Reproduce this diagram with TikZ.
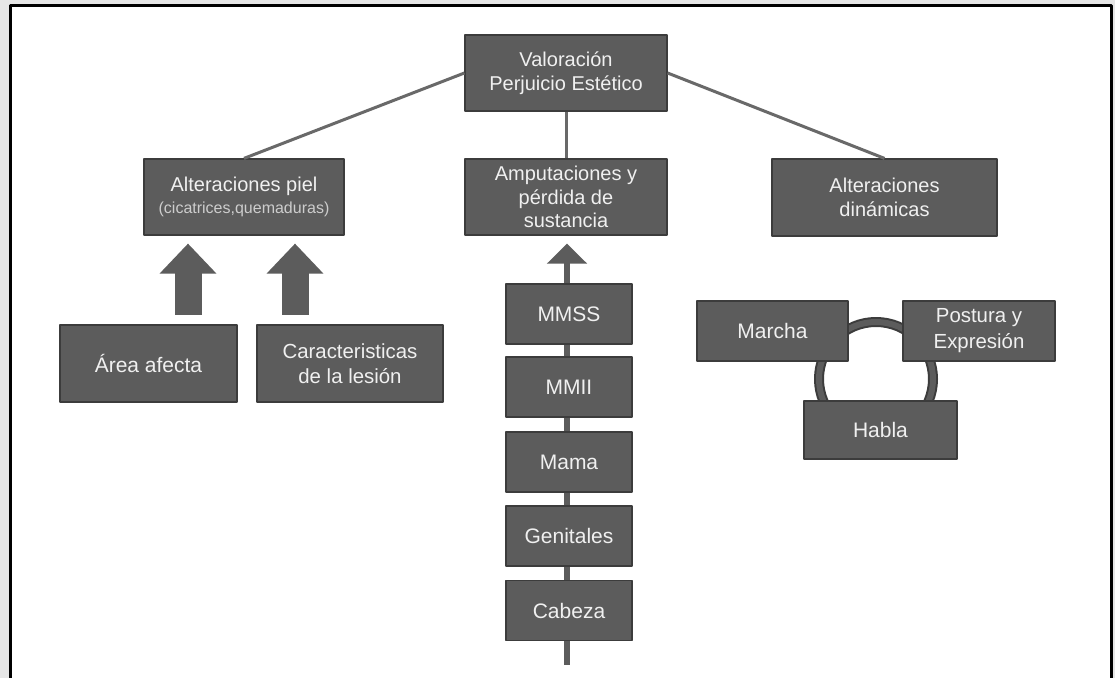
\documentclass[tikz,border=0pt]{standalone}
\usepackage{fontspec}
\setmainfont{Liberation Sans}
\usetikzlibrary{arrows.meta}

\definecolor{boxgray}{RGB}{92,92,92}
\definecolor{boxedge}{RGB}{60,60,60}
\definecolor{linkgray}{RGB}{105,105,105}
\definecolor{textgray}{RGB}{240,240,240}
\definecolor{smallgray}{RGB}{205,205,205}
\definecolor{pagegray}{RGB}{230,230,230}

\begin{document}
\begin{tikzpicture}[x=0.5pt, y=-0.5pt, line join=round,
		box/.style={draw=boxedge, line width=0.6pt, fill=boxgray, text=textgray,
			align=center, inner sep=0pt, font=\fontsize{10}{12}\selectfont},
		bigbox/.style={box, font=\fontsize{10.5}{12.5}\selectfont},
		colbox/.style={bigbox, minimum width=63pt, minimum height=30pt},
		link/.style={draw=linkgray, line width=1.5pt},
		fatarrow/.style={draw=boxgray, line width=13.5pt,
			-{Triangle[length=15pt, width=27.5pt]}},
		colarrow/.style={draw=boxgray, line width=3pt,
			-{Triangle[length=10pt, width=19.5pt]}},
		ring/.style={draw=boxedge, line width=1pt, double=boxgray, double distance=3pt}]
		
		% --- page and frame ---
		\fill[pagegray] (0,0) rectangle (1115,678);
		\useasboundingbox (0,0) rectangle (1115,678);
		\fill[white] (10.7,5.5) rectangle (1111,678);
		\draw[line width=1.5pt] (10.7,678) -- (10.7,5.5) -- (1111,5.5) -- (1111,678);
		
		% --- top level ---
		\node[box, minimum width=101pt, minimum height=38pt] (val) at (566,73)
		{Valoración\\Perjuicio Estético};
		
		\node[box, minimum width=100pt, minimum height=38pt] (piel) at (244,197)
		{Alteraciones piel\\[-1pt]{\color{smallgray}\fontsize{8}{9}\selectfont(cicatrices,quemaduras)}};
		\node[box, minimum width=101pt, minimum height=38pt, font=\fontsize{10}{11.7}\selectfont] (amp) at (566,197)
		{Amputaciones y\\pérdida de\\sustancia};
		\node[box, minimum width=112.5pt, minimum height=38.5pt] (din) at (884.5,197.5)
		{Alteraciones\\dinámicas};
		
		\draw[link] (val.west) -- (piel.north);
		\draw[link] (val.south) -- (amp.north);
		\draw[link] (val.east) -- (din.north);
		
		% --- left: skin ---
		\node[bigbox, minimum width=88.5pt, minimum height=38.5pt] (area) at (148.5,363.5) {Área afecta};
		\node[box, minimum width=93pt, minimum height=38.5pt, font=\fontsize{10.2}{12.5}\selectfont] (carac) at (350,363.5)
		{Caracteristicas\\de la lesión};
		
		\coordinate (areaup) at (188,315);
		\coordinate (caracup) at (295,315);
		\draw[fatarrow] (areaup) -- ([yshift=-4pt]areaup |- piel.south);
		\draw[fatarrow] (caracup) -- ([yshift=-4pt]caracup |- piel.south);
		
		% --- middle: column of parts ---
		\coordinate (colfoot) at (567,665);
		\draw[colarrow] (colfoot) -- ([yshift=-4pt]colfoot |- amp.south);
		
		\node[colbox] (mmss) at (569,314) {MMSS};
		\node[colbox] (mmii) at (569,387) {MMII};
		\node[colbox] (mama) at (569,462) {Mama};
		\node[colbox] (genit) at (569,536) {Genitales};
		\node[colbox] (cabeza) at (569,610.5) {Cabeza};
		
		% --- right: dynamics ---
		\coordinate (ringc) at (876,379);
		\draw[ring] (ringc) circle[radius=28.5pt];
		
		\node[bigbox, minimum width=75.5pt, minimum height=30pt] (marcha) at (772.5,331) {Marcha};
		\node[box, minimum width=76pt, minimum height=30pt, font=\fontsize{10.2}{13}\selectfont] (postura) at (979,331)
		{Postura y\\Expresión};
		\node[bigbox, minimum width=76.5pt, minimum height=29pt] (habla) at (880.5,430) {Habla};
		
\end{tikzpicture}
\end{document}
